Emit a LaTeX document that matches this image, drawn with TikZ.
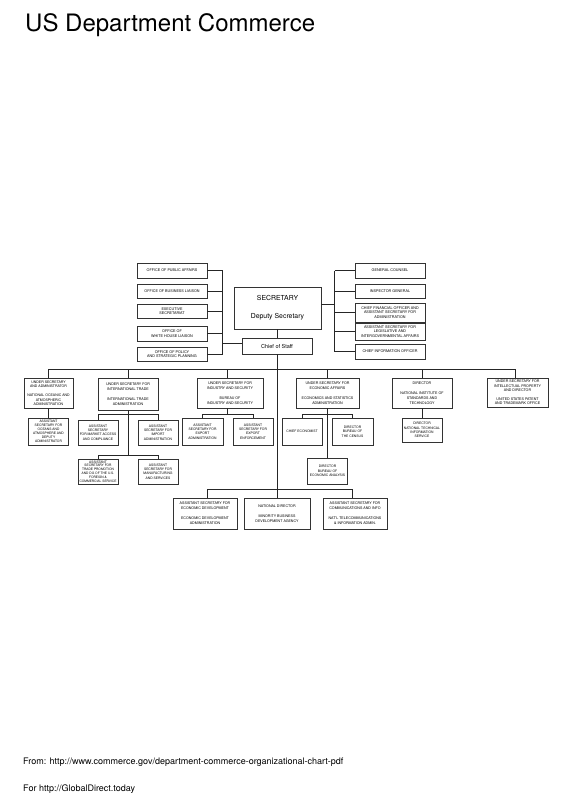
\documentclass[tikz,border=0pt]{standalone}
\usepackage{fontspec}
\setmainfont{TeX Gyre Heros}
\begin{document}
\begin{tikzpicture}[x=1pt,y=-1pt,
  sz/.style 2 args={minimum width=#1pt, minimum height=#2pt},
  box/.style={draw=black!80, line width=0.65pt, fill=white, inner sep=0pt, align=center,
    font=\fontsize{3.6}{5}\selectfont},
  staff/.style={box, font=\fontsize{3.7}{4.5}\selectfont},
  small/.style={box, font=\fontsize{3.35}{4.3}\selectfont},
  conn/.style={draw=black!85, line width=0.6pt},
  foot/.style={anchor=base west, font=\fontsize{9}{10}\selectfont},
]
\useasboundingbox (0,0) rectangle (565,800);

% title
\node[anchor=base west, font=\fontsize{24}{28}\selectfont, inner sep=0pt] (title) at (25,31.5) {US Department Commerce};

% secretary and chief of staff
\node[box, sz={87}{42}, font=\fontsize{6.9}{18}\selectfont] (sec) at (277.5,308) {SECRETARY\\Deputy Secretary};
\node[box, sz={70}{16}, font=\fontsize{5.5}{6.5}\selectfont] (cos) at (277,346) {Chief of Staff};

% left staff offices
\node[staff, sz={70}{15}] (pa) at (172,270.5) {OFFICE OF PUBLIC AFFAIRS};
\node[staff, sz={70}{14}] (bl) at (172,291) {OFFICE OF BUSINESS LIAISON};
\node[staff, sz={70}{14}] (es) at (172,311) {EXECUTIVE\\SECRETARIAT};
\node[staff, sz={70}{15}] (wh) at (172,333.5) {OFFICE OF\\WHITE HOUSE LIAISON};
\node[staff, sz={70}{14}] (ps) at (172,354) {OFFICE OF POLICY\\AND STRATEGIC PLANNING};

% right staff offices
\node[staff, sz={70}{15}] (gc) at (390,270.5) {GENERAL COUNSEL};
\node[staff, sz={70}{14}] (ig) at (390,291) {INSPECTOR GENERAL};
\node[staff, sz={70}{19}] (cfo) at (390,312.5) {CHIEF FINANCIAL OFFICER AND\\ASSISTANT SECRETARY FOR\\ADMINISTRATION};
\node[staff, sz={70}{17}] (leg) at (390,331.5) {ASSISTANT SECRETARY FOR\\LEGISLATIVE AND\\INTERGOVERNMENTAL AFFAIRS};
\node[staff, sz={70}{15}] (cio) at (390,351.5) {CHIEF INFORMATION OFFICER};

% first level bureaus
\node[box, sz={49}{30}, font=\fontsize{3.5}{4.5}\selectfont] (noaa) at (48.5,393) {UNDER SECRETARY\\AND ADMINISTRATOR\\[4.5pt]NATIONAL OCEANIC AND\\ATMOSPHERIC\\ADMINISTRATION};
\node[box, sz={60}{32}] (ita) at (128,394) {UNDER SECRETARY FOR\\INTERNATIONAL TRADE\\[5pt]INTERNATIONAL TRADE\\ADMINISTRATION};
\node[box, sz={66}{30}] (bis) at (230,393) {UNDER SECRETARY FOR\\INDUSTRY AND SECURITY\\[5pt]BUREAU OF\\INDUSTRY AND SECURITY};
\node[box, sz={63}{30}] (econ) at (327.5,393) {UNDER SECRETARY FOR\\ECONOMIC AFFAIRS\\[5pt]ECONOMICS AND STATISTICS\\ADMINISTRATION};
\node[box, sz={60}{30}] (nist) at (422,393) {DIRECTOR\\[5pt]NATIONAL INSTITUTE OF\\STANDARDS AND\\TECHNOLOGY};
\node[box, sz={61}{29}, font=\fontsize{3.6}{4.4}\selectfont] (uspto) at (517.5,392.5) {UNDER SECRETARY FOR\\INTELLECTUAL PROPERTY\\AND DIRECTOR\\[4.4pt]UNITED STATES PATENT\\AND TRADEMARK OFFICE};

% second level
\node[small, sz={40}{27}, font=\fontsize{3.3}{4.1}\selectfont] (noaasub) at (48.5,431.5) {ASSISTANT\\SECRETARY FOR\\OCEANS AND\\ATMOSPHERE AND\\DEPUTY\\ADMINISTRATOR};
\node[small, sz={40}{25}] (ma) at (98,432.5) {ASSISTANT\\SECRETARY\\FOR MARKET ACCESS\\AND COMPLIANCE};
\node[small, sz={40}{25}] (imp) at (158,432.5) {ASSISTANT\\SECRETARY FOR\\IMPORT\\ADMINISTRATION};
\node[small, sz={41}{27}] (ea) at (202.5,431.5) {ASSISTANT\\SECRETARY FOR\\EXPORT\\ADMINISTRATION};
\node[small, sz={40}{27}] (ee) at (253,431.5) {ASSISTANT\\SECRETARY FOR\\EXPORT\\ENFORCEMENT};
\node[small, sz={40}{27}] (ce) at (302,431.5) {CHIEF ECONOMIST};
\node[small, sz={41}{27}] (cen) at (352.5,431.5) {DIRECTOR\\BUREAU OF\\THE CENSUS};
\node[small, sz={40}{24}] (ntis) at (422,430) {DIRECTOR\\NATIONAL TECHNICAL\\INFORMATION\\SERVICE};

% third level
\node[small, sz={40}{25}, font=\fontsize{3.25}{3.85}\selectfont] (tp) at (98,471.5) {ASSISTANT\\SECRETARY FOR\\TRADE PROMOTION\\AND DG OF THE U.S.\\FOREIGN \&\\COMMERCIAL SERVICE};
\node[small, sz={40}{25}] (mfg) at (158,471.5) {ASSISTANT\\SECRETARY FOR\\MANUFACTURING\\AND SERVICES};
\node[small, sz={40}{26}] (bea) at (327.5,471) {DIRECTOR\\BUREAU OF\\ECONOMIC ANALYSIS};

% bottom level
\node[box, sz={64}{31}] (eda) at (205,513.5) {ASSISTANT SECRETARY FOR\\ECONOMIC DEVELOPMENT\\[5pt]ECONOMIC DEVELOPMENT\\ADMINISTRATION};
\node[box, sz={66}{31}] (mbda) at (277,513.5) {NATIONAL DIRECTOR\\[5pt]MINORITY BUSINESS\\DEVELOPMENT AGENCY};
\node[box, sz={64}{31}] (ntia) at (355,513.5) {ASSISTANT SECRETARY FOR\\COMMUNICATIONS AND INFO\\[5pt]NAT'L TELECOMMUNICATIONS\\\& INFORMATION ADMIN.};

% footer
\node[foot, inner sep=0pt] (src) at (23,764) {From: http://www.commerce.gov/department-commerce-organizational-chart-pdf};
\node[foot, inner sep=0pt] (for) at (23,791) {For http://GlobalDirect.today};

% bus coordinates
\coordinate (lbus) at (222.5,0);
\coordinate (rbus) at (334.5,0);
\coordinate (mb) at (0,369);
\coordinate (br) at (0,414);
\coordinate (b3) at (0,455);
\coordinate (bb) at (0,489);

% staff connectors
\foreach \n in {pa,bl,es,wh,ps} \draw[conn] (\n.east) -- (\n.east -| lbus);
\draw[conn] (pa.east -| lbus) -- (ps.east -| lbus);
\draw[conn] ([yshift=3pt]cos.west) -- ([yshift=3pt]cos.west -| lbus);
\foreach \n in {gc,ig,cfo,leg,cio} \draw[conn] (\n.west) -- (\n.west -| rbus);
\draw[conn] (gc.west -| rbus) -- (cio.west -| rbus);
\draw[conn] ([yshift=4pt]sec.east) -- ([yshift=4pt]sec.east -| rbus);
\draw[conn] (sec.south -| cos.north) -- (cos.north);

% trunk
\draw[conn] (cos.south) -- (mbda.north);

% main bus
\draw[conn] (noaa.north |- mb) -- ([xshift=-2.5pt]uspto.north |- mb);
\draw[conn] (noaa.north |- mb) -- (noaa.north);
\draw[conn] (ita.north |- mb) -- (ita.north);
\draw[conn] ([xshift=-3pt]bis.north |- mb) -- ([xshift=-3pt]bis.north);
\draw[conn] (econ.north |- mb) -- (econ.north);
\draw[conn] (nist.north |- mb) -- (nist.north);
\draw[conn] ([xshift=-2.5pt]uspto.north |- mb) -- ([xshift=-2.5pt]uspto.north);

% NOAA
\draw[conn] (noaa.south) -- (noaasub.north);
% ITA
\draw[conn] (ita.south) -- (ita.south |- b3);
\draw[conn] (ma.north) -- (ma.north |- br) -- (imp.north |- br) -- (imp.north);
\draw[conn] (tp.north) -- (tp.north |- b3) -- (mfg.north |- b3) -- (mfg.north);
% BIS
\draw[conn] ([xshift=-3pt]bis.south) -- ([xshift=-3pt]bis.south |- br);
\draw[conn] (ea.north) -- (ea.north |- br) -- (ee.north |- br) -- (ee.north);
% Economics
\draw[conn] (econ.south) -- (bea.north);
\draw[conn] (ce.north) -- (ce.north |- br) -- (cen.north |- br) -- (cen.north);
% NIST
\draw[conn] (nist.south) -- (ntis.north);
% bottom
\draw[conn] ([xshift=2pt]eda.north) -- ([xshift=2pt]eda.north |- bb) -- ([xshift=-3pt]ntia.north |- bb) -- ([xshift=-3pt]ntia.north);
\end{tikzpicture}
\end{document}
